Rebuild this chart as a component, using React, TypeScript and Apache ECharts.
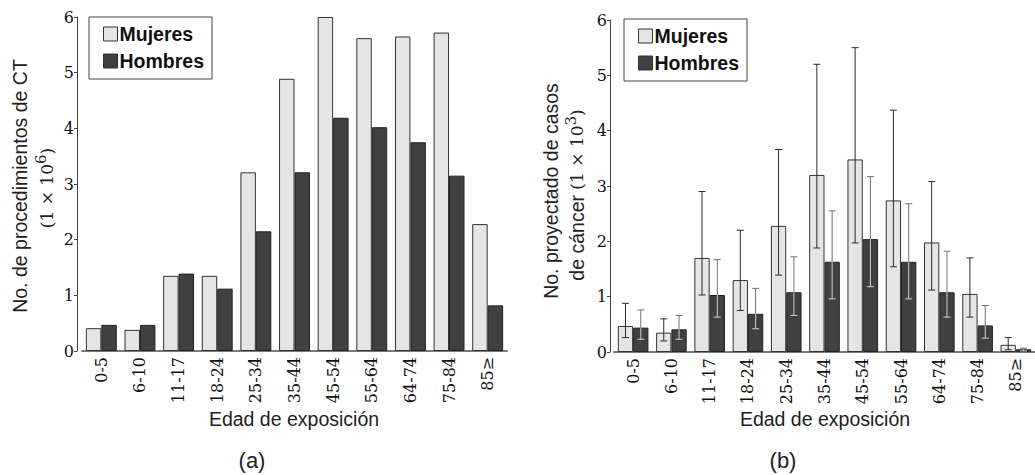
import React, { useEffect, useRef } from "react";
import * as echarts from "echarts";

// Age groups at exposure
const ageGroups = ["0-5", "6-10", "11-17", "18-24", "25-34", "35-44", "45-54", "55-64", "64-74", "75-84", "85≥"];

// (a) CT procedures, millions
const ctMujeres = [0.41, 0.38, 1.35, 1.35, 3.21, 4.89, 6.0, 5.62, 5.65, 5.72, 2.28];
const ctHombres = [0.47, 0.47, 1.39, 1.12, 2.15, 3.21, 4.19, 4.02, 3.75, 3.15, 0.82];

// (b) projected cancer cases, thousands, with uncertainty ranges
const cancerMujeres = [0.47, 0.35, 1.70, 1.30, 2.28, 3.20, 3.48, 2.74, 1.98, 1.05, 0.13];
const cancerMujeresLow = [0.26, 0.20, 1.03, 0.75, 1.39, 1.88, 1.97, 1.54, 1.12, 0.63, 0.04];
const cancerMujeresHigh = [0.88, 0.60, 2.90, 2.20, 3.66, 5.20, 5.50, 4.37, 3.08, 1.70, 0.26];
const cancerHombres = [0.44, 0.41, 1.03, 0.69, 1.08, 1.63, 2.04, 1.63, 1.08, 0.48, 0.05];
const cancerHombresLow = [0.23, 0.23, 0.63, 0.42, 0.66, 0.96, 1.18, 0.96, 0.63, 0.25, 0.02];
const cancerHombresHigh = [0.76, 0.66, 1.67, 1.15, 1.72, 2.55, 3.17, 2.68, 1.82, 0.84, 0.07];

const yTicks = [0, 1, 2, 3, 4, 5, 6];

const SANS = "'Liberation Sans', Arial, sans-serif";
const SERIF = "'DejaVu Serif', serif";
const LIGHT = "#e5e5e5";
const DARK = "#404040";
const CAT_GAP = 0.2;

function errorData() {
  const rows: number[][] = [];
  ageGroups.forEach((_, i) => {
    rows.push([i, cancerMujeresLow[i], cancerMujeresHigh[i], cancerMujeres[i], 0]);
    rows.push([i, cancerHombresLow[i], cancerHombresHigh[i], cancerHombres[i], 1]);
  });
  return rows;
}

function renderError(params: any, api: any) {
  const idx = api.value(0);
  const low = api.value(1);
  const high = api.value(2);
  const mid = api.value(3);
  const which = api.value(4);
  const slot = api.size([1, 0])[0];
  const barW = (slot * (1 - CAT_GAP)) / 2;
  const cx = api.coord([idx, 0])[0] + (which === 0 ? -barW / 2 : barW / 2);
  const yLow = api.coord([idx, low])[1];
  const yHigh = api.coord([idx, high])[1];
  const yMid = api.coord([idx, mid])[1];
  const cap = 3.5;
  const children: any[] = [];
  if (which === 0) {
    const st = { stroke: "#2a2a2a", lineWidth: 1 };
    children.push({ type: "line", shape: { x1: cx, y1: yLow, x2: cx, y2: yHigh }, style: st });
    children.push({ type: "line", shape: { x1: cx - cap, y1: yLow, x2: cx + cap, y2: yLow }, style: st });
    children.push({ type: "line", shape: { x1: cx - cap, y1: yHigh, x2: cx + cap, y2: yHigh }, style: st });
  } else {
    const inner = { stroke: "#d0d0d0", lineWidth: 1 };
    const outer = { stroke: "#707070", lineWidth: 1 };
    children.push({ type: "line", shape: { x1: cx, y1: yLow, x2: cx, y2: yMid }, style: inner });
    children.push({ type: "line", shape: { x1: cx, y1: yMid, x2: cx, y2: yHigh }, style: outer });
    children.push({ type: "line", shape: { x1: cx - cap, y1: yLow, x2: cx + cap, y2: yLow }, style: inner });
    children.push({ type: "line", shape: { x1: cx - cap, y1: yHigh, x2: cx + cap, y2: yHigh }, style: yHigh < yMid ? outer : inner });
  }
  return { type: "group", children };
}

function rotatedText(x: number, y: number, text: string, rich?: any, font = SANS, size = 19.5) {
  return {
    type: "text",
    x,
    y,
    rotation: Math.PI / 2,
    style: {
      text,
      fontFamily: font,
      fontSize: size,
      fill: "#222",
      align: "center",
      verticalAlign: "middle",
      rich,
    },
  };
}

const supRich = {
  a: { fontFamily: SERIF, fontSize: 17, fill: "#222" },
  s: { fontFamily: SERIF, fontSize: 15, fill: "#222", padding: [0, 0, 12, 0] },
  t: { fontFamily: SANS, fontSize: 19.5, fill: "#222" },
};

export default function App() {
  const ref = useRef<HTMLDivElement>(null);

  useEffect(() => {
    if (!ref.current) return;
    const chart = echarts.init(ref.current, null, { renderer: "svg" });

    const xAxisBase = (gridIndex: number) => ({
      type: "category",
      gridIndex,
      data: ageGroups,
      axisLine: { show: true, lineStyle: { color: "#7a7a7a", width: 2 } },
      axisTick: { show: false },
      axisLabel: {
        rotate: 90,
        margin: 6,
        fontFamily: SERIF,
        fontSize: 16,
        color: "#111",
        interval: 0,
      },
    });

    const yAxisBase = (gridIndex: number, offset: number) => ({
      type: "value",
      gridIndex,
      min: yTicks[0],
      max: yTicks[yTicks.length - 1],
      interval: 1,
      offset,
      axisLine: { show: true, lineStyle: { color: "#444", width: 1 } },
      axisTick: { show: true, length: 3, lineStyle: { color: "#444" } },
      splitLine: { show: false },
      axisLabel: { margin: 3, fontFamily: SERIF, fontSize: 16, color: "#111" },
    });

    const legendBase = (left: number, top: number) => ({
      orient: "vertical",
      left,
      top,
      data: [
        { name: "Mujeres", icon: "rect" },
        { name: "Hombres", icon: "rect" },
      ],
      borderColor: "#444",
      borderWidth: 1,
      padding: [7, 8, 8, 14],
      itemGap: 7,
      itemWidth: 14,
      itemHeight: 14,
      itemStyle: { borderColor: "#333", borderWidth: 1 },
      textStyle: { fontFamily: SANS, fontSize: 19.5, fontWeight: "bold", color: "#111", padding: [0, 0, 0, -3] },
      selectedMode: false,
    });

    const barStyle = (color: string, border: string) => ({ color, borderColor: border, borderWidth: 1 });

    chart.setOption({
      animation: false,
      backgroundColor: "#fff",
      grid: [
        { left: 82, top: 17, width: 425, height: 334 },
        { left: 614, top: 20, width: 424, height: 332 },
      ],
      xAxis: [xAxisBase(0), xAxisBase(1)],
      yAxis: [yAxisBase(0, 5), yAxisBase(1, 4)],
      legend: [legendBase(89, 17), legendBase(624, 19)],
      series: [
        {
          type: "bar",
          name: "Mujeres",
          xAxisIndex: 0,
          yAxisIndex: 0,
          data: ctMujeres,
          barGap: "0%",
          barCategoryGap: `${CAT_GAP * 100}%`,
          itemStyle: barStyle(LIGHT, "#333"),
        },
        {
          type: "bar",
          name: "Hombres",
          xAxisIndex: 0,
          yAxisIndex: 0,
          data: ctHombres,
          barGap: "0%",
          barCategoryGap: `${CAT_GAP * 100}%`,
          itemStyle: barStyle(DARK, "#222"),
        },
        {
          type: "bar",
          name: "Mujeres",
          xAxisIndex: 1,
          yAxisIndex: 1,
          data: cancerMujeres,
          barGap: "0%",
          barCategoryGap: `${CAT_GAP * 100}%`,
          itemStyle: barStyle(LIGHT, "#333"),
        },
        {
          type: "bar",
          name: "Hombres",
          xAxisIndex: 1,
          yAxisIndex: 1,
          data: cancerHombres,
          barGap: "0%",
          barCategoryGap: `${CAT_GAP * 100}%`,
          itemStyle: barStyle(DARK, "#222"),
        },
        {
          type: "custom",
          name: "rango",
          xAxisIndex: 1,
          yAxisIndex: 1,
          data: errorData(),
          encode: { x: 0, y: [1, 2] },
          renderItem: renderError,
          z: 10,
          silent: true,
        },
      ],
      graphic: [
        rotatedText(20, 186, "No. de procedimientos de CT"),
        rotatedText(47, 188, "{a|(1 × 10}{s|6}{a|)}", supRich, SERIF, 17),
        rotatedText(551, 191, "No. proyectado de casos"),
        rotatedText(577, 195, "{t|de cáncer }{a|(1 × 10}{s|3}{a|)}", supRich, SERIF, 17),
        {
          type: "text",
          x: 294,
          y: 419,
          style: { text: "Edad de exposición", fontFamily: SANS, fontSize: 19.5, fill: "#222", align: "center", verticalAlign: "middle" },
        },
        {
          type: "text",
          x: 825,
          y: 419,
          style: { text: "Edad de exposición", fontFamily: SANS, fontSize: 19.5, fill: "#222", align: "center", verticalAlign: "middle" },
        },
        {
          type: "text",
          x: 252,
          y: 460,
          style: { text: "(a)", fontFamily: SANS, fontSize: 22, fill: "#222", align: "center", verticalAlign: "middle" },
        },
        {
          type: "text",
          x: 783,
          y: 460,
          style: { text: "(b)", fontFamily: SANS, fontSize: 22, fill: "#222", align: "center", verticalAlign: "middle" },
        },
      ],
    });

    return () => chart.dispose();
  }, []);

  return (
    <div
      ref={ref}
      style={{ position: "fixed", left: 0, top: 0, width: 1035, height: 475, background: "#fff" }}
    />
  );
}
